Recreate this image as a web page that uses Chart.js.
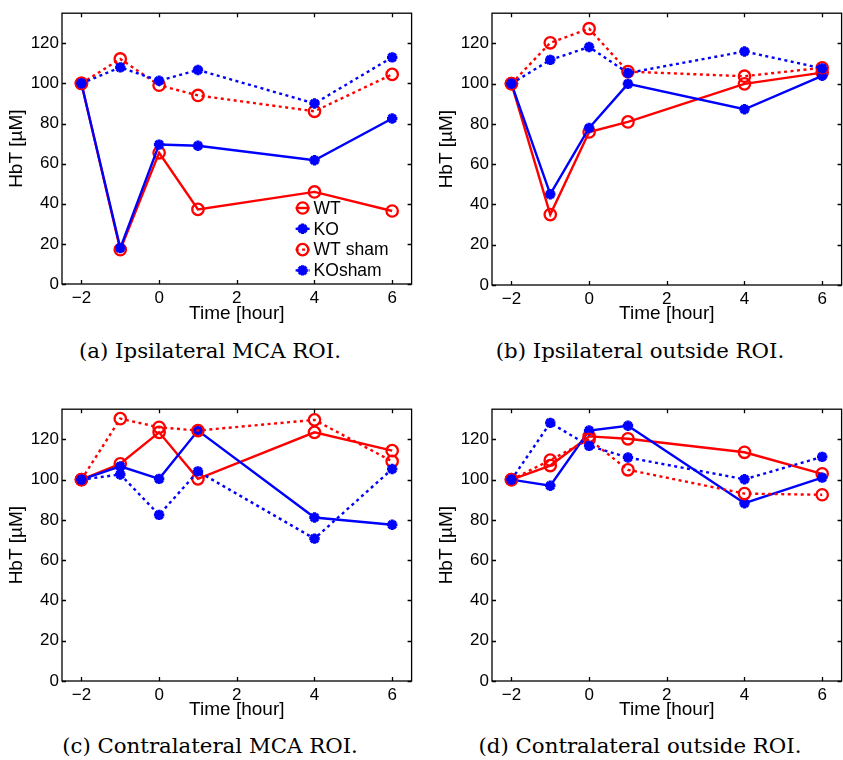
<!DOCTYPE html>
<html>
<head>
<meta charset="utf-8">
<script src="https://cdn.jsdelivr.net/npm/chart.js@4.4.1/dist/chart.umd.min.js"></script>
<style>
  body { margin: 0; width: 843px; height: 760px; overflow: hidden; background: #fff; position: relative; }
  canvas { position: absolute; }
  .cap { position: absolute; width: 420px; text-align: center; font-family: 'DejaVu Serif', serif; font-size: 21.3px; line-height: 24px; color: #000; white-space: nowrap; }
</style>
</head>
<body>
<canvas id="pa" width="420" height="330" style="left:0;top:0"></canvas>
<canvas id="pb" width="420" height="330" style="left:430px;top:0"></canvas>
<canvas id="pc" width="420" height="330" style="left:0;top:396px"></canvas>
<canvas id="pd" width="420" height="330" style="left:430px;top:396px"></canvas>
<div class="cap" style="left:0;top:339px">(a) Ipsilateral MCA ROI.</div>
<div class="cap" style="left:430px;top:339px">(b) Ipsilateral outside ROI.</div>
<div class="cap" style="left:0;top:734px">(c) Contralateral MCA ROI.</div>
<div class="cap" style="left:430px;top:734px">(d) Contralateral outside ROI.</div>
<script>
// time points (hours)
const times = [-2, -1, 0, 1, 4, 6];
const xTicks = [-2, 0, 2, 4, 6];
const yTicks = [0, 20, 40, 60, 80, 100, 120];
const seriesNames = ['WT', 'KO', 'WT sham', 'KOsham'];

// (a) ipsilateral MCA ROI
const aWT      = [100, 17.1, 65.4, 37.2, 45.9, 36.4];
const aKO      = [100, 17.9, 69.5, 68.9, 61.7, 82.5];
const aWTsham  = [100, 112.2, 99.1, 94.0, 86.1, 104.5];
const aKOsham  = [100, 108.0, 101.3, 106.7, 90.0, 113.0];

// (b) ipsilateral outside ROI
const bWT      = [100, 35.0, 76.0, 81.0, 99.9, 105.5];
const bKO      = [100, 45.1, 78.0, 99.9, 87.3, 103.9];
const bWTsham  = [100, 120.3, 127.3, 106.0, 103.7, 107.9];
const bKOsham  = [100, 111.8, 118.2, 105.3, 116.0, 107.6];

// (c) contralateral MCA ROI
const cWT      = [100, 107.9, 123.5, 100.4, 123.5, 114.4];
const cKO      = [100, 106.6, 100.4, 124.4, 81.2, 77.6];
const cWTsham  = [100, 130.3, 126.0, 124.4, 129.7, 109.1];
const cKOsham  = [100, 102.6, 82.5, 104.1, 70.7, 105.3];

// (d) contralateral outside ROI
const dWT      = [100, 107.0, 121.5, 120.3, 113.6, 102.9];
const dKO      = [100, 97.0, 124.4, 126.8, 88.3, 101.0];
const dWTsham  = [100, 109.7, 120.0, 104.9, 93.1, 92.5];
const dKOsham  = [100, 128.2, 116.8, 111.0, 100.2, 111.3];

const RED = '#ff0000';
const BLUE = '#0000ff';
const tickFont = { family: "'Liberation Sans', Arial, sans-serif", size: 17 };
const titleFont = { family: "'Liberation Sans', Arial, sans-serif", size: 19 };

// matlab style box with inward ticks on every side
const matlabAxes = {
  id: 'matlabAxes',
  afterDraw(chart) {
    const { ctx, chartArea: a, scales: { x, y } } = chart;
    ctx.save();
    ctx.strokeStyle = '#000';
    ctx.lineWidth = 1.3;
    ctx.strokeRect(a.left, a.top, a.right - a.left, a.bottom - a.top);
    ctx.beginPath();
    x.ticks.forEach(t => {
      const px = Math.round(x.getPixelForValue(t.value)) + 0.5;
      ctx.moveTo(px, a.bottom); ctx.lineTo(px, a.bottom - 4);
      ctx.moveTo(px, a.top); ctx.lineTo(px, a.top + 4);
    });
    y.ticks.forEach(t => {
      const py = Math.round(y.getPixelForValue(t.value)) + 0.5;
      ctx.moveTo(a.left, py); ctx.lineTo(a.left + 4, py);
      ctx.moveTo(a.right, py); ctx.lineTo(a.right - 4, py);
    });
    ctx.stroke();
    ctx.restore();
  }
};

// legend inside the plot, lower right (only panel a)
const insideLegend = {
  id: 'insideLegend',
  afterDraw(chart) {
    const { ctx, chartArea: a } = chart;
    ctx.save();
    ctx.font = "17.5px 'Liberation Sans', Arial, sans-serif";
    ctx.textBaseline = 'middle';
    ctx.fillStyle = '#000';
    chart.data.datasets.forEach((ds, i) => {
      const cy = a.bottom - 76 + i * 20.8;
      const mx = a.right - 109;
      ctx.save();
      ctx.strokeStyle = ds.borderColor;
      ctx.lineWidth = ds.borderWidth;
      ctx.setLineDash(ds.borderDash || []);
      ctx.beginPath();
      ctx.moveTo(mx - 7, cy); ctx.lineTo(mx + 7, cy);
      ctx.stroke();
      ctx.restore();
      ctx.save();
      ctx.strokeStyle = ds.borderColor;
      ctx.fillStyle = ds.pointBackgroundColor;
      ctx.lineWidth = ds.pointBorderWidth;
      Chart.helpers.drawPoint(ctx, { pointStyle: ds.pointStyle, radius: ds.pointRadius, rotation: 0, borderWidth: ds.pointBorderWidth }, mx, cy);
      ctx.restore();
      ctx.fillText(ds.label, a.right - 98, cy + 1);
    });
    ctx.restore();
  }
};

function makeDatasets(wt, ko, wtSham, koSham) {
  const vals = [wt, ko, wtSham, koSham];
  return vals.map((v, i) => {
    const red = i % 2 === 0;
    const dotted = i >= 2;
    return {
      label: seriesNames[i],
      data: times.map((t, k) => ({ x: t, y: v[k] })),
      borderColor: red ? RED : BLUE,
      backgroundColor: red ? RED : BLUE,
      borderWidth: 2.4,
      borderDash: dotted ? [3, 3.5] : [],
      pointStyle: red ? 'circle' : 'star',
      pointRadius: red ? 5.7 : 5.2,
      pointBorderWidth: red ? 2.3 : 3.2,
      pointBackgroundColor: red ? 'rgba(0,0,0,0)' : BLUE,
      pointBorderColor: red ? RED : BLUE,
      tension: 0,
      order: 4 - i
    };
  });
}

function makePanel(id, datasets, padTop, withLegend) {
  const plugins = [matlabAxes];
  if (withLegend) plugins.push(insideLegend);
  new Chart(document.getElementById(id), {
    type: 'line',
    data: { datasets: datasets },
    plugins: plugins,
    options: {
      responsive: false,
      animation: false,
      devicePixelRatio: 1,
      layout: { padding: { top: padTop, right: 5, left: 0, bottom: 0 } },
      plugins: { legend: { display: false }, tooltip: { enabled: false } },
      scales: {
        x: {
          type: 'linear',
          min: -2.5,
          max: 6.5,
          afterBuildTicks: s => { s.ticks = xTicks.map(v => ({ value: v })); },
          afterFit: s => { s.height = 330 - padTop - 280; },
          grid: { display: false, drawTicks: false },
          border: { display: false },
          ticks: {
            font: tickFont,
            color: '#000',
            padding: 4,
            maxRotation: 0,
            callback: v => (v < 0 ? '\u2212' + Math.abs(v) : String(v))
          },
          title: { display: true, text: 'Time [hour]', font: titleFont, color: '#000', padding: { top: 0, bottom: 5 } }
        },
        y: {
          type: 'linear',
          min: 0,
          max: 135,
          afterBuildTicks: s => { s.ticks = yTicks.map(v => ({ value: v })); },
          afterFit: s => { s.width = 62; },
          grid: { display: false, drawTicks: false },
          border: { display: false },
          ticks: { font: tickFont, color: '#000', padding: 3 },
          title: { display: true, text: 'HbT [\u00b5M]', font: titleFont, color: '#000', padding: { top: 5, bottom: 0 } }
        }
      }
    }
  });
}

makePanel('pa', makeDatasets(aWT, aKO, aWTsham, aKOsham), 4, true);
makePanel('pb', makeDatasets(bWT, bKO, bWTsham, bKOsham), 5, false);
makePanel('pc', makeDatasets(cWT, cKO, cWTsham, cKOsham), 5, false);
makePanel('pd', makeDatasets(dWT, dKO, dWTsham, dKOsham), 5, false);
</script>
</body>
</html>
